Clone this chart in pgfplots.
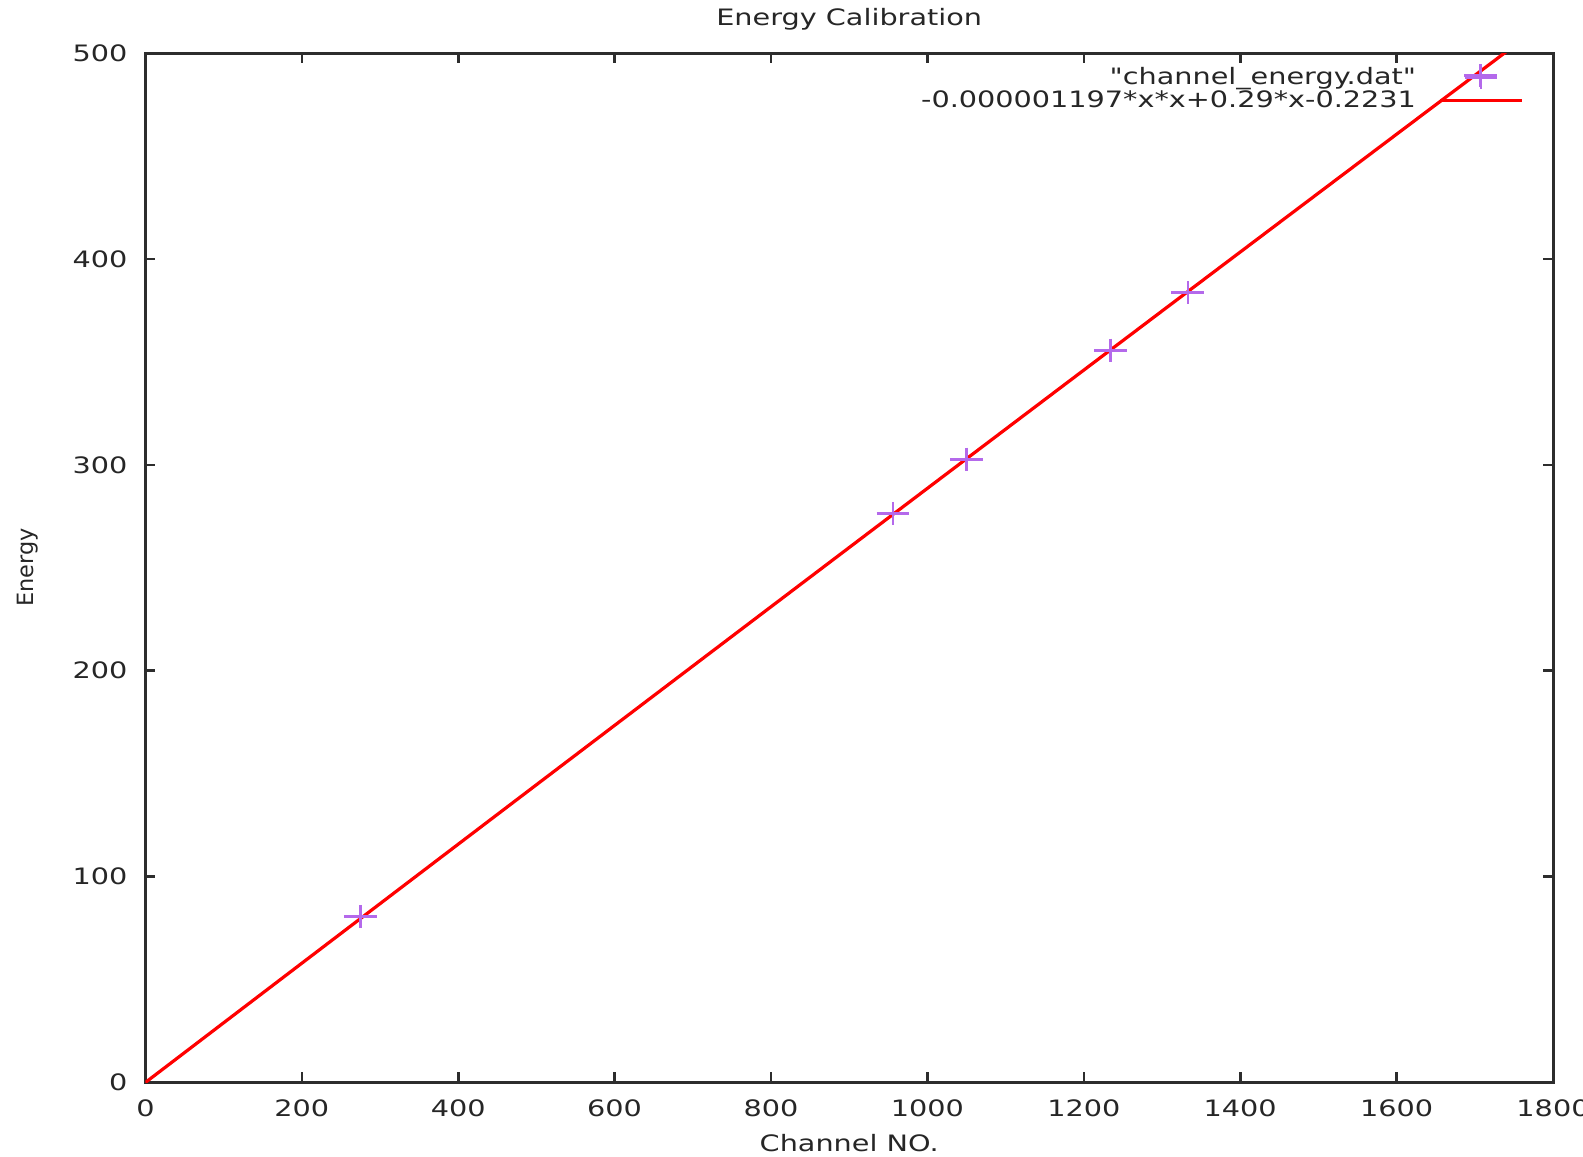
\documentclass[border=0pt]{standalone}
\usepackage{fontspec}
\setmainfont{DejaVu Sans}[FakeStretch=1.27]
\newfontfamily\legfont{DejaVu Sans}[FakeStretch=1.27, Ligatures=ResetAll]
\newfontfamily\ylabfont{DejaVu Sans}
\usepackage{pgfplots}
\pgfplotsset{compat=1.18}
\definecolor{gpviolet}{RGB}{180,105,235}
\definecolor{axcol}{RGB}{45,45,45}
\begin{document}
\begin{tikzpicture}
\useasboundingbox (0,0) rectangle (791.5pt,578pt);
\begin{axis}[
  at={(72.7pt,37pt)}, anchor=south west,
  scale only axis, width=703.8pt, height=514.3pt,
  xmin=0, xmax=1800, ymin=0, ymax=500,
  xtick={0,200,...,1800}, ytick={0,100,...,500},
  tick align=inside, major tick length=5pt,
  axis line style={axcol, line width=1.5pt},
  every tick/.style={axcol, line width=1.3pt},
  /pgf/number format/assume math mode=true,
  /pgf/number format/1000 sep={},
  tick label style={font=\fontsize{11.3}{13}\selectfont, text=black!85},
  xticklabel style={yshift=-5.3pt},
  yticklabel style={xshift=-5.5pt},
  every axis x label/.style={at={(axis description cs:0.5,0)}, anchor=center, yshift=-30.5pt},
  every axis y label/.style={at={(axis description cs:-0.0835,0.5)}, anchor=center, rotate=90},
  every axis title/.style={at={(axis description cs:0.5,1)}, anchor=center, yshift=17.2pt},
  xlabel={Channel NO.}, ylabel={Energy},
  xlabel style={font=\fontsize{11.3}{13}\selectfont, text=black!85},
  ylabel style={font=\ylabfont\fontsize{11.2}{12}\selectfont, text=black!85},
  title={Energy Calibration},
  title style={font=\fontsize{11.3}{13}\selectfont, text=black!85},
  legend plot pos=right,
  legend cell align=right,
  legend style={at={(rel axis cs:1,1)}, anchor=north east, xshift=-11.5pt, yshift=-3pt,
    draw=none, fill=none, font=\legfont\fontsize{11.3}{12}\selectfont, text=black!85,
    row sep=-2.5pt},
  clip=true,
]
\addplot[only marks, mark=+, mark size=5.8pt, color=gpviolet, line width=1.3pt,
  mark options={xscale=1.42},
  legend image code/.code={\path[draw=none, fill=none] (0pt,0pt) -- (51pt,0pt);
    \path[draw=none, fill=none, mark=+, mark size=5.8pt, line width=1.3pt, color=gpviolet, mark options={xscale=1.42, draw=gpviolet}] plot coordinates {(30.5pt,0pt)};}]
  coordinates {
  (275,80.5) (956,276.3) (1050,302.7) (1234,355.7) (1333,383.7) (1707,489.2)
  };
\addlegendentry{"channel\_energy.dat"}
\addplot[color=red, line width=1.6pt, mark=none,
  legend image code/.code={\path[draw=none, fill=none] (0pt,0pt) -- (51pt,0pt); \draw[red, line width=1.6pt] (10pt,0pt) -- (51pt,0pt);}]
  coordinates {
  (0,-0.223) (100,28.765) (200,57.729) (300,86.669) (400,115.585) (500,144.478)
  (600,173.346) (700,202.190) (800,231.011) (900,259.807) (1000,288.580)
  (1100,317.329) (1200,346.053) (1300,374.754) (1400,403.431) (1500,432.084)
  (1600,460.712) (1700,489.318) (1800,517.899)
  };
\addlegendentry{-0.000001197*x*x+0.29*x-0.2231}
\end{axis}
\end{tikzpicture}
\end{document}
